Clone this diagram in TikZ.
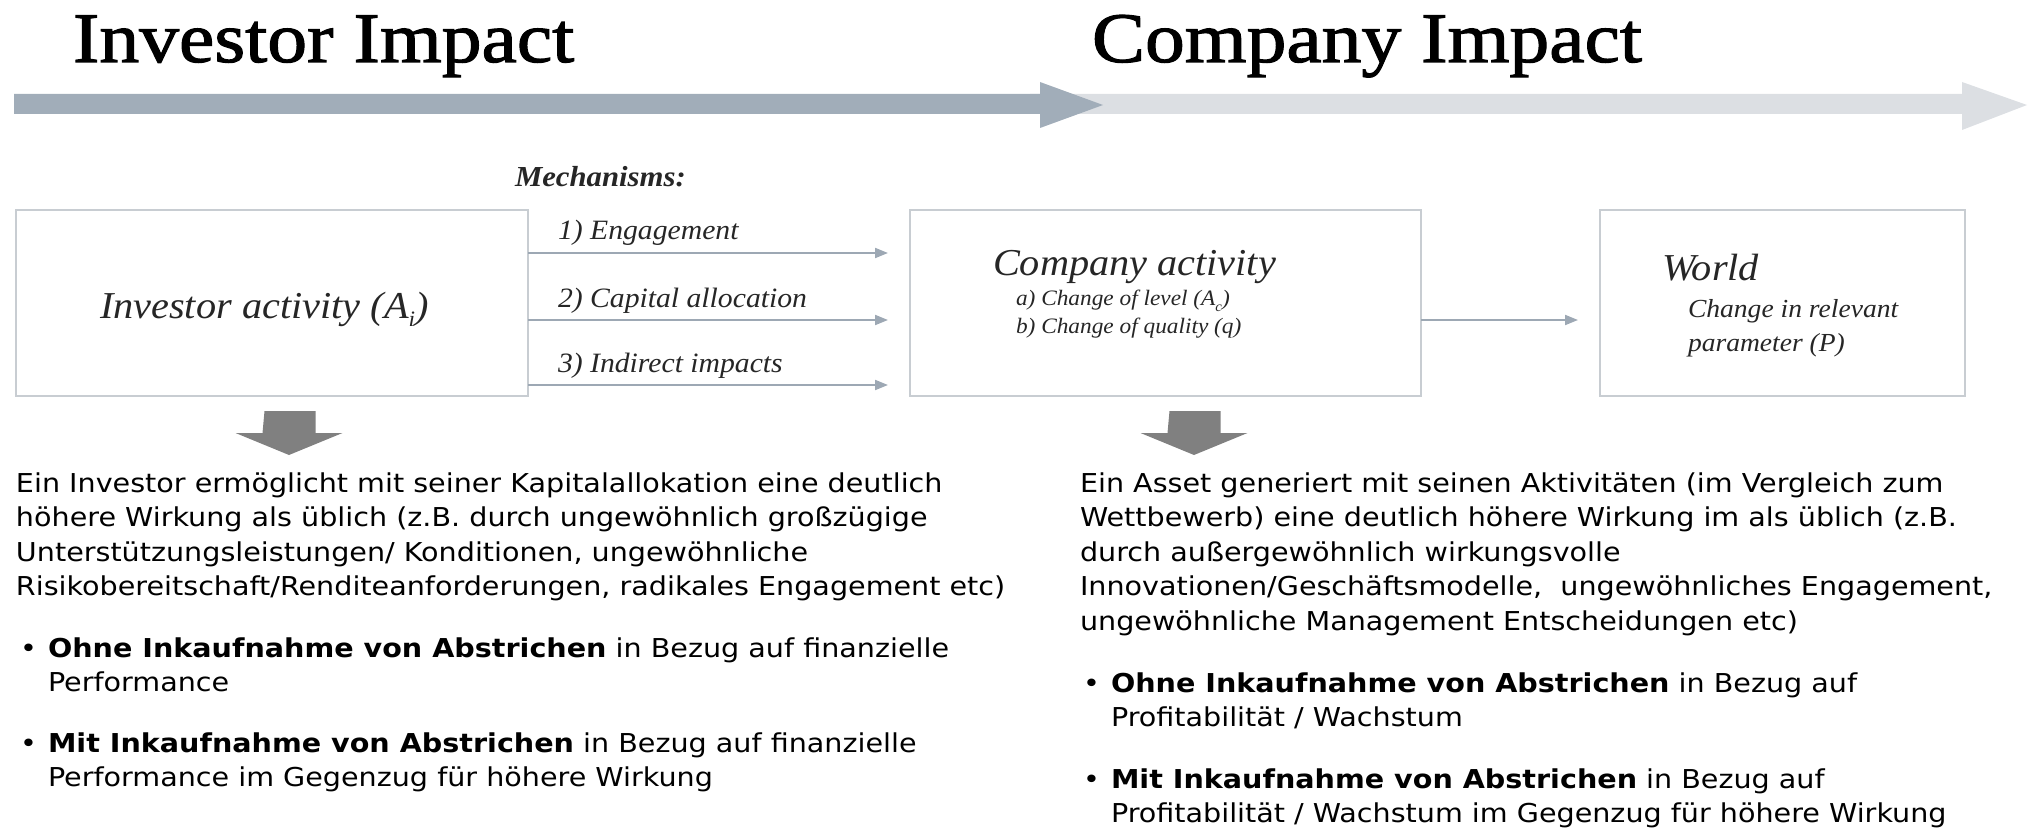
\documentclass[tikz,border=0pt]{standalone}
\usepackage{fontspec}
\setmainfont{DejaVu Sans}[FakeStretch=1.1]
\newfontfamily\titlefont{Liberation Serif}[FakeStretch=1.12,FakeBold=1.6]
\newfontfamily\boxfont{Liberation Serif}[FakeStretch=1.06]
\usetikzlibrary{arrows.meta,calc}
\definecolor{bardark}{HTML}{A1ADB9}
\definecolor{barlight}{HTML}{DCDFE3}
\definecolor{boxline}{HTML}{C8CDD2}
\definecolor{mecharrow}{HTML}{9DA8B4}
\definecolor{downgray}{HTML}{808080}
\definecolor{boxtext}{HTML}{262626}
\newcommand{\bodyfont}{\fontsize{26}{34.5}\selectfont}
\newcommand{\bul}{\makebox[28pt][l]{•}}
\begin{document}
\begin{tikzpicture}[x=1pt,y=-1pt,
  lbl/.style={anchor=base west,inner sep=0pt,outer sep=0pt},
  title/.style={lbl,font=\titlefont\fontsize{71}{71}\selectfont},
  actbox/.style={draw=boxline,line width=2.5pt,fill=white,inner sep=0pt,outer sep=0pt,anchor=north west,minimum height=186pt},
  mech/.style={draw=mecharrow,line width=2pt,-{Triangle[length=13pt,width=10pt]}},
  mechlbl/.style={lbl,font=\boxfont\itshape\fontsize{28}{28}\selectfont,text=boxtext},
  bigit/.style={lbl,font=\boxfont\itshape\fontsize{38}{38}\selectfont,text=boxtext},
  smallit/.style={lbl,font=\boxfont\itshape\fontsize{22}{22}\selectfont,text=boxtext},
  midit/.style={lbl,font=\boxfont\itshape\fontsize{26}{26}\selectfont,text=boxtext},
  body/.style={lbl,font=\bodyfont}
]
\useasboundingbox (0,0) rectangle (2031,829);

% headers
\node[title] (t1) at (73,62) {Investor Impact};
\node[title] (t2) at (1092,62) {Company Impact};

% progress bars
\fill[barlight] (1030,94) -- (1962,94) -- (1962,82) -- (2027,105) -- (1962,130) -- (1962,114) -- (1030,114) -- cycle;
\fill[bardark] (14,94) -- (1040,94) -- (1040,82) -- (1103,105) -- (1040,128) -- (1040,114) -- (14,114) -- cycle;

% boxes
\node[actbox,minimum width=512pt] (ia) at (16,210) {};
\node[actbox,minimum width=511pt] (ca) at (910,210) {};
\node[actbox,minimum width=365pt] (wa) at (1600,210) {};

\node[bigit] (iat) at (100,318) {Investor activity (A\raisebox{-8pt}{\fontsize{22}{22}\selectfont i})};
\node[bigit] (cat) at (993,275) {Company activity};
\node[smallit] (ca1) at (1016,305) {a) Change of level (A\raisebox{-6pt}{\fontsize{14}{14}\selectfont c})};
\node[smallit] (ca2) at (1016,333) {b) Change of quality (q)};
\node[bigit] (wt) at (1662,280) {World};
\node[midit] (w1) at (1688,317) {Change in relevant};
\node[midit] (w2) at (1688,351) {parameter (P)};

% mechanisms
\node[lbl,font=\boxfont\bfseries\itshape\fontsize{29}{29}\selectfont,text=black!85] (mech) at (515,187) {Mechanisms:};
\node[mechlbl] (l1) at (558,240) {1) Engagement};
\node[mechlbl] (l2) at (558,307) {2) Capital allocation};
\node[mechlbl] (l3) at (558,372) {3) Indirect impacts};
\coordinate (m1) at (0,253);
\coordinate (m2) at (0,320);
\coordinate (m3) at (0,385);
\draw[mech] (ia.east |- m1) -- ($(ca.west |- m1)+(-22,0)$);
\draw[mech] (ia.east |- m2) -- ($(ca.west |- m2)+(-22,0)$);
\draw[mech] (ia.east |- m3) -- ($(ca.west |- m3)+(-22,0)$);
\draw[mech] (ca.east |- m2) -- ($(wa.west |- m2)+(-22,0)$);

% down arrows
\coordinate (d1) at (290,411);
\coordinate (d2) at (1195,411);
\foreach \d in {d1,d2}{
  \fill[downgray] (\d) ++(-25.5,0) -- ++(51,0) -- ++(0,22) -- ++(27,0) -- ++(-53.5,22) -- ++(-53.5,-22) -- ++(27,0) -- cycle;
}

% left text
\node[body] (p1) at (16,492) {\begin{tabular}[t]{@{}l@{}}
Ein Investor ermöglicht mit seiner Kapitalallokation eine deutlich\\
höhere Wirkung als üblich (z.B. durch ungewöhnlich großzügige\\
Unterstützungsleistungen/ Konditionen, ungewöhnliche\\
Risikobereitschaft/Renditeanforderungen, radikales Engagement etc)
\end{tabular}};
\node[body] (b1) at (20,657) {\begin{tabular}[t]{@{}l@{}l@{}}
\bul & \textbf{Ohne Inkaufnahme von Abstrichen} in Bezug auf finanzielle\\
 & Performance
\end{tabular}};
\node[body] (b2) at (20,752) {\begin{tabular}[t]{@{}l@{}l@{}}
\bul & \textbf{Mit Inkaufnahme von Abstrichen} in Bezug auf finanzielle\\
 & Performance im Gegenzug für höhere Wirkung
\end{tabular}};

% right text
\node[body] (p2) at (1080,492) {\begin{tabular}[t]{@{}l@{}}
Ein Asset generiert mit seinen Aktivitäten (im Vergleich zum\\
Wettbewerb) eine deutlich höhere Wirkung im als üblich (z.B.\\
durch außergewöhnlich wirkungsvolle\\
Innovationen/Geschäftsmodelle,~ ungewöhnliches Engagement,\\
ungewöhnliche Management Entscheidungen etc)
\end{tabular}};
\node[body] (b3) at (1083,692) {\begin{tabular}[t]{@{}l@{}l@{}}
\bul & \textbf{Ohne Inkaufnahme von Abstrichen} in Bezug auf\\
 & Profitabilität / Wachstum
\end{tabular}};
\node[body] (b4) at (1083,788) {\begin{tabular}[t]{@{}l@{}l@{}}
\bul & \textbf{Mit Inkaufnahme von Abstrichen} in Bezug auf\\
 & Profitabilität / Wachstum im Gegenzug für höhere Wirkung
\end{tabular}};
\end{tikzpicture}
\end{document}
